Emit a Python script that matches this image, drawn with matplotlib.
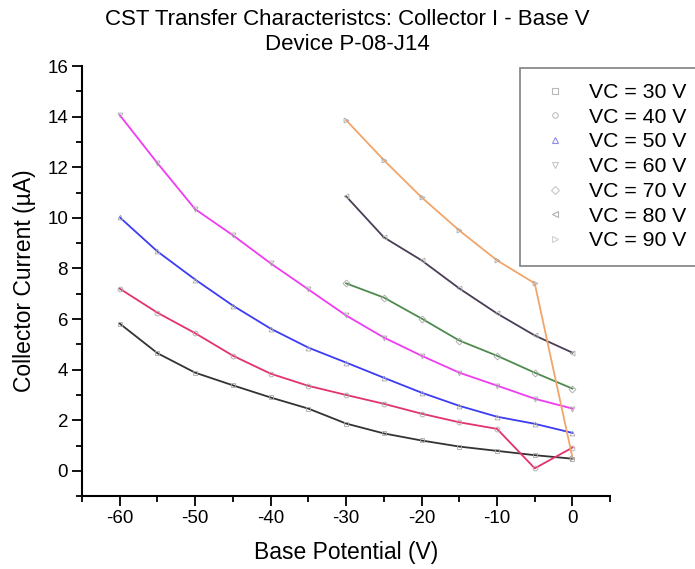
"""CST transfer characteristics: collector current vs base potential, device P-08-J14."""

import matplotlib

matplotlib.use("Agg")

import matplotlib.pyplot as plt
from matplotlib.lines import Line2D
from matplotlib.ticker import MultipleLocator

plt.rcParams["font.family"] = ["Liberation Sans", "DejaVu Sans"]
plt.rcParams["axes.unicode_minus"] = False

# Base potential sweeps (V): low VC runs go to -60 V, high VC runs to -30 V.
BASE_V_LONG = [-60, -55, -50, -45, -40, -35, -30, -25, -20, -15, -10, -5, 0]
BASE_V_SHORT = [-30, -25, -20, -15, -10, -5, 0]

# Collector current (uA) per collector voltage.
VC30 = [5.82, 4.65, 3.88, 3.38, 2.9, 2.46, 1.87, 1.48, 1.2, 0.96, 0.79, 0.62, 0.48]
VC40 = [7.2, 6.25, 5.44, 4.55, 3.84, 3.36, 3.0, 2.65, 2.26, 1.92, 1.66, 0.1, 0.92]
VC50 = [10.02, 8.67, 7.56, 6.53, 5.62, 4.87, 4.28, 3.68, 3.09, 2.57, 2.14, 1.86, 1.5]
VC60 = [14.06, 12.16, 10.34, 9.31, 8.2, 7.17, 6.14, 5.27, 4.55, 3.88, 3.37, 2.85, 2.46]
VC70 = [7.41, 6.85, 6.02, 5.15, 4.55, 3.88, 3.25]
VC80 = [10.85, 9.23, 8.32, 7.21, 6.22, 5.35, 4.67]
VC90 = [13.86, 12.28, 10.81, 9.5, 8.32, 7.41, 0.52]

LABELS = ["VC = 30 V", "VC = 40 V", "VC = 50 V", "VC = 60 V",
          "VC = 70 V", "VC = 80 V", "VC = 90 V"]

SERIES = [
    (BASE_V_LONG, VC30, "#333333", "s"),
    (BASE_V_LONG, VC40, "#e2336a", "o"),
    (BASE_V_LONG, VC50, "#3c3cf5", "^"),
    (BASE_V_LONG, VC60, "#f03cf0", "v"),
    (BASE_V_SHORT, VC70, "#4f8a4f", "D"),
    (BASE_V_SHORT, VC80, "#4a3d55", "<"),
    (BASE_V_SHORT, VC90, "#f2a56a", ">"),
]
_LEGEND_MARKER_COLOURS = ["#b8b8b8", "#c0c0c0", "#8c8cf0", "#c8c8c8",
                          "#c8c8c8", "#b0b0b0", "#d0d0d0"]

fig = plt.figure(figsize=(6.95, 5.69), dpi=100)
ax = fig.add_axes([0.118, 0.128, 0.76, 0.756])

for x, y, colour, marker in SERIES:
    ax.plot(x, y, color=colour, linewidth=1.3, marker=marker, markersize=3.5,
            markerfacecolor="none", markeredgecolor="#a8a8a8",
            markeredgewidth=0.6)

ax.set_xlim(-65, 5)
ax.set_ylim(-1, 16)
ax.xaxis.set_major_locator(MultipleLocator(10))
ax.xaxis.set_minor_locator(MultipleLocator(5))
ax.yaxis.set_major_locator(MultipleLocator(2))
ax.yaxis.set_minor_locator(MultipleLocator(1))
ax.spines["top"].set_visible(False)
ax.spines["right"].set_visible(False)
for side in ("left", "bottom"):
    ax.spines[side].set_linewidth(1.5)
ax.tick_params(which="major", direction="out", length=7, width=1.3,
               labelsize=13.5, pad=3)
ax.tick_params(which="minor", direction="out", length=4, width=1.3)

ax.set_xlabel("Base Potential (V)", fontsize=16.5, labelpad=10)
ax.set_ylabel("Collector Current (\u00b5A)", fontsize=16.5, labelpad=8)
fig.suptitle("CST Transfer Characteristcs: Collector I - Base V\nDevice P-08-J14",
             fontsize=16, y=0.984, linespacing=1.22)

handles = [
    Line2D([], [], linestyle="none", marker=marker, markersize=4,
           markerfacecolor="none", markeredgecolor=mc, markeredgewidth=0.8)
    for (_, _, _, marker), mc in zip(SERIES, _LEGEND_MARKER_COLOURS)
]
leg = fig.legend(handles, LABELS, loc="upper left",
                 bbox_to_anchor=(0.748, 0.881), borderaxespad=0,
                 fontsize=15.3, frameon=True, fancybox=False,
                 edgecolor="#808080", framealpha=1, borderpad=0.72,
                 labelspacing=0.27, handletextpad=0.62, handlelength=1.9)
leg.get_frame().set_linewidth(1.2)

fig.savefig("out.png", dpi=100)
plt.close(fig)
